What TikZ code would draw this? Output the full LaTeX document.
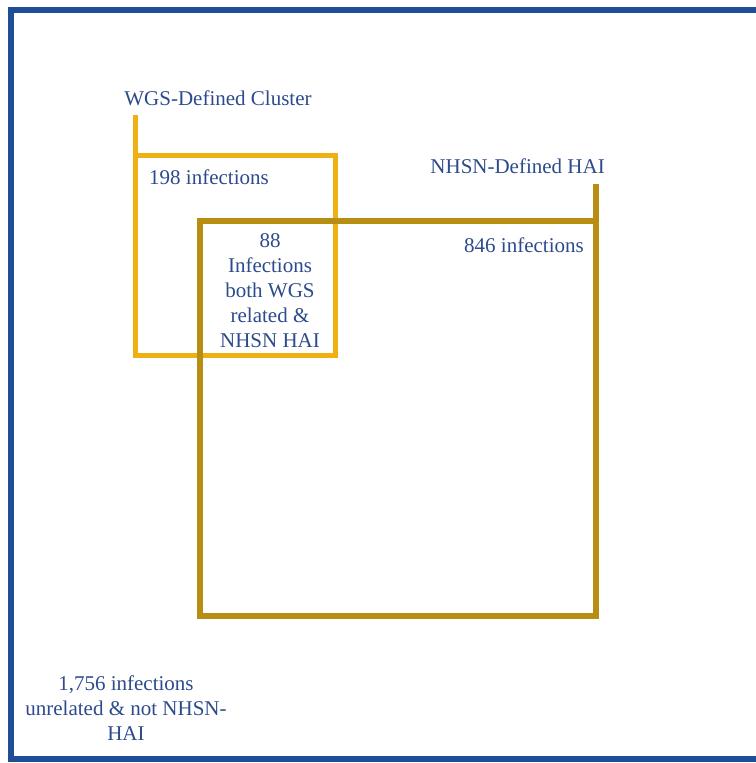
\documentclass[tikz,border=0pt]{standalone}
\usepackage{fontspec}
\setmainfont{Liberation Serif}
\definecolor{frameblue}{HTML}{1F4E96}
\definecolor{txtblue}{HTML}{2C4A8C}
\definecolor{wgsyellow}{HTML}{EFB014}
\definecolor{nhsngold}{HTML}{B88E12}
\tikzset{
  lbl/.style={text=txtblue, font=\fontsize{21}{25}\selectfont, inner sep=0pt, align=center},
  wgsline/.style={draw=wgsyellow, line width=5pt},
  nhsnline/.style={draw=nhsngold, line width=5.5pt},
  frameline/.style={draw=frameblue, line width=6pt}
}
\begin{document}
\begin{tikzpicture}[x=1pt,y=-1pt]
\useasboundingbox (0,0) rectangle (755,763);
% outer frame
\draw[frameline] (770,10) -- (11,10) -- (11,759) -- (770,759);
% WGS cluster box
\coordinate (wstem) at (135,115);
\coordinate (wtl) at (135,155);
\coordinate (wtr) at (335,155);
\coordinate (wbr) at (335,355);
\coordinate (wbl) at (135,355);
\draw[wgsline] (wstem) -- (wbl) -- (wbr) -- (wtr) -- (wtl);
% NHSN box
\coordinate (nstem) at (596,184);
\coordinate (ntr) at (596,221);
\coordinate (ntl) at (200,221);
\coordinate (nbl) at (200,616);
\coordinate (nbr) at (596,616);
\draw[nhsnline] (nstem) -- (nbr) -- (nbl) -- (ntl) -- (ntr);
% labels
\node[lbl, anchor=base] (wgs) at (218,105) {WGS-Defined Cluster};
\node[lbl, anchor=base west] (w198) at (149,184) {198 infections};
\node[lbl, anchor=base east] (nhsn) at (605,173) {NHSN-Defined HAI};
\node[lbl, anchor=base east] (n846) at (584,252) {846 infections};
\node[lbl, anchor=base] (both) at (270,347) {88\\Infections\\both WGS\\related \&\\NHSN HAI};
\node[lbl, anchor=base] (rest) at (126,740) {1,756 infections\\unrelated \& not NHSN-\\HAI};
\end{tikzpicture}
\end{document}
